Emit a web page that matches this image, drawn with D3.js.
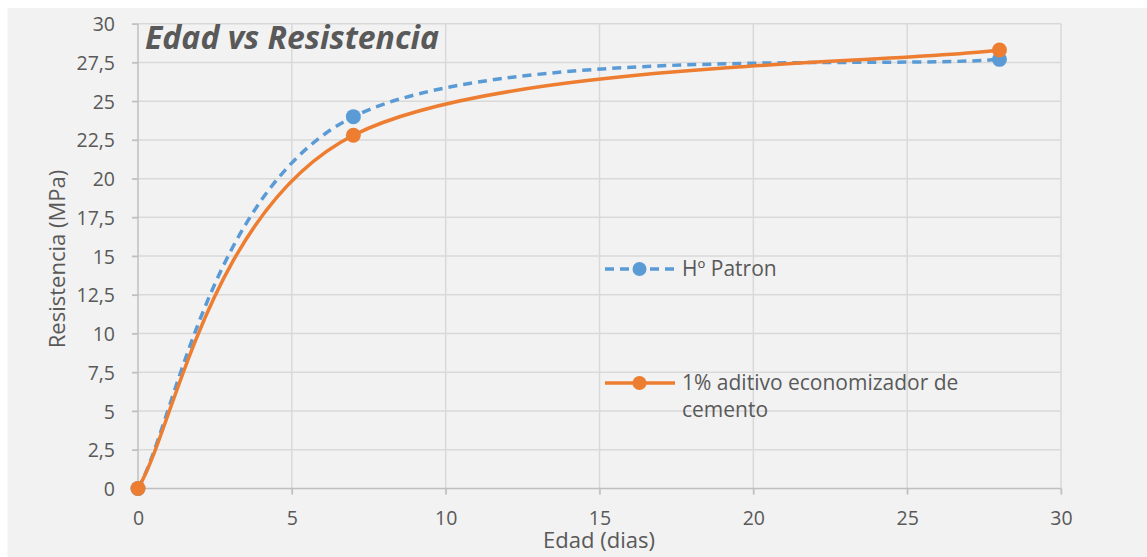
<!DOCTYPE html>
<html><head><meta charset="utf-8">
<script src="https://cdn.jsdelivr.net/npm/d3@7"></script>
<style>
html,body{margin:0;padding:0;background:#fff;}
svg{display:block;font-family:"Open Sans",sans-serif;}
</style></head>
<body>
<svg id="c" width="1147" height="557"></svg>
<script>
const edad = [0, 7, 28];
const patron = [0, 24.0, 27.7];
const aditivo = [0, 22.8, 28.3];
const xTicks = [0, 5, 10, 15, 20, 25, 30];
const yTicks = [0, 2.5, 5, 7.5, 10, 12.5, 15, 17.5, 20, 22.5, 25, 27.5, 30];
const seriesNames = ["Hº Patron", "1% aditivo economizador de cemento"];

const svg = d3.select("#c");
svg.append("rect").attr("x", 7.5).attr("y", 8).attr("width", 1140).attr("height", 549).attr("fill", "#f2f2f2");

const x = d3.scaleLinear().domain([0, 30]).range([138, 1061]);
const y = d3.scaleLinear().domain([0, 30]).range([488.5, 23.7]);
const fmt = d => String(d).replace(".", ",");

// horizontal grid
svg.append("g").selectAll("line").data(yTicks.slice(1)).join("line")
  .attr("x1", x(0) - 6).attr("x2", x(30)).attr("y1", d => y(d)).attr("y2", d => y(d))
  .attr("stroke", "#d9d9d9").attr("stroke-width", 1.5);
// vertical grid
svg.append("g").selectAll("line").data(xTicks.slice(1)).join("line")
  .attr("x1", d => x(d)).attr("x2", d => x(d)).attr("y1", y(30)).attr("y2", y(0) + 6)
  .attr("stroke", "#d9d9d9").attr("stroke-width", 1.5);

// y axis
const ya = svg.append("g").attr("transform", `translate(${x(0)},0)`)
  .call(d3.axisLeft(y).tickValues(yTicks).tickFormat(fmt).tickSize(6).tickPadding(17));
ya.select(".domain").attr("stroke", "#bfbfbf").attr("stroke-width", 1.5).attr("d", `M0,${y(0)}V${y(30)}`);
ya.selectAll(".tick line").attr("stroke", "#bfbfbf").attr("stroke-width", 1.5);
ya.selectAll(".tick text").attr("fill", "#595959").attr("font-size", 19.5).attr("font-family", "Open Sans").attr("dy", "0.36em");

// x axis
const xa = svg.append("g").attr("transform", `translate(0,${y(0)})`)
  .call(d3.axisBottom(x).tickValues(xTicks).tickFormat(fmt).tickSize(6).tickPadding(17));
xa.select(".domain").attr("stroke", "#bfbfbf").attr("stroke-width", 1.5).attr("d", `M${x(0)},0H${x(30)}`);
xa.selectAll(".tick line").attr("stroke", "#bfbfbf").attr("stroke-width", 1.5);
xa.selectAll(".tick text").attr("fill", "#595959").attr("font-size", 19.5).attr("font-family", "Open Sans");

// axis titles
svg.append("text").attr("x", 599).attr("y", 548).attr("text-anchor", "middle")
  .attr("fill", "#595959").attr("font-size", 22).text("Edad (dias)");
svg.append("text").attr("transform", "translate(65,259) rotate(-90)").attr("text-anchor", "middle")
  .attr("fill", "#595959").attr("font-size", 22).text("Resistencia (MPa)");

// chart title
svg.append("text").attr("x", 145).attr("y", 48.5).attr("fill", "#595959")
  .attr("font-size", 32).attr("font-weight", "bold").attr("font-style", "italic").text("Edad vs Resistencia");

// Excel-style smoothing curve (Bezier, tangent k*(P[i+1]-P[i-1]), endpoints duplicated)
function excelCurve(context) {
  let pts = [];
  return {
    areaStart() {}, areaEnd() {},
    lineStart() { pts = []; },
    point(px, py) { pts.push([px, py]); },
    lineEnd() {
      const n = pts.length, k = 1 / 6;
      if (!n) return;
      context.moveTo(pts[0][0], pts[0][1]);
      for (let i = 0; i < n - 1; i++) {
        const p0 = pts[Math.max(i - 1, 0)], p1 = pts[i], p2 = pts[i + 1], p3 = pts[Math.min(i + 2, n - 1)];
        context.bezierCurveTo(
          p1[0] + k * (p2[0] - p0[0]), p1[1] + k * (p2[1] - p0[1]),
          p2[0] - k * (p3[0] - p1[0]), p2[1] - k * (p3[1] - p1[1]),
          p2[0], p2[1]);
      }
    }
  };
}

const line = d3.line().x(d => x(d[0])).y(d => y(d[1])).curve(excelCurve);
const series = [
  {name: seriesNames[0], vals: patron, color: "#5b9bd5", dash: "9,6"},
  {name: seriesNames[1], vals: aditivo, color: "#ed7d31", dash: null}
];
series.forEach(s => {
  const data = edad.map((e, i) => [e, s.vals[i]]);
  svg.append("path").datum(data).attr("d", line).attr("fill", "none")
    .attr("stroke", s.color).attr("stroke-width", 3.5).attr("stroke-dasharray", s.dash);
  svg.append("g").selectAll("circle").data(data).join("circle")
    .attr("cx", d => x(d[0])).attr("cy", d => y(d[1])).attr("r", 7.5).attr("fill", s.color);
});

// legend
const lg = [{s: series[0], y: 269, lines: ["Hº Patron"]},
            {s: series[1], y: 383, lines: ["1% aditivo economizador de", "cemento"]}];
lg.forEach(l => {
  svg.append("line").attr("x1", 605).attr("x2", 675).attr("y1", l.y).attr("y2", l.y)
    .attr("stroke", l.s.color).attr("stroke-width", 3.5).attr("stroke-dasharray", l.s.dash ? "9,6" : null);
  svg.append("circle").attr("cx", 639.5).attr("cy", l.y).attr("r", 7).attr("fill", l.s.color);
  l.lines.forEach((t, i) => {
    svg.append("text").attr("x", 682).attr("y", l.y + 7 + i * 26.7).attr("fill", "#595959")
      .attr("font-size", 21).text(t);
  });
});
</script>
</body></html>
